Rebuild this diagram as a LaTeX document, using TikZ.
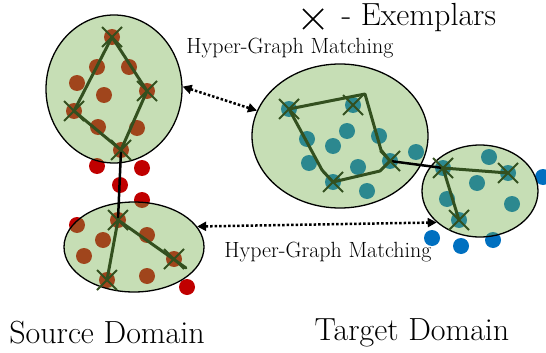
\documentclass[tikz,border=0pt]{standalone}
\usetikzlibrary{shapes.geometric,arrows.meta}

\definecolor{srcred}{HTML}{C00000}
\definecolor{tgtblue}{HTML}{0070C0}
\definecolor{blobgreen}{HTML}{70AD47}
\definecolor{edgegreen}{HTML}{33501F}

\begin{document}
\begin{tikzpicture}[
  x=1pt, y=-1pt,
  sdot/.style={fill=srcred},
  tdot/.style={fill=tgtblue},
  blob/.style={ellipse, draw=black, line width=1.3pt, fill=blobgreen, fill opacity=0.4, draw opacity=1, inner sep=0pt},
  hedge/.style={draw=edgegreen, line width=3pt, line cap=round, line join=round},
  link/.style={draw=black, line width=2.5pt},
  match/.style={{Triangle[length=9pt,width=9pt]}-{Triangle[length=9pt,width=9pt]}, line width=2.5pt, dotted},
  lbl/.style={font=\fontsize{22}{26}\selectfont},
  big/.style={font=\fontsize{32}{36}\selectfont},
  exm/.pic={\draw [edgegreen, line width=2pt] (-10,-10) -- (10,10) (-10,10) -- (10,-10);},
]
\useasboundingbox (0,0) rectangle (546,353);

% samples
\foreach \p in {(112,37),(97,67),(129,67),(77,83),(104,95),(147,91),(74,111),(98,127),(137,128),(121,150),
                (97,166),(142,168),(120,185),(142,200),
                (118,220),(103,240),(147,235),(77,225),(84,256),(147,276),(174,259),(107,280),(187,287)}
	\path [sdot] \p circle [radius=8];
\foreach \p in {(289,109),(353,105),(307,139),(347,131),(379,136),(333,146),(309,163),(358,167),(367,191),(416,152),(390,161),(333,182),
                (443,168),(508,173),(459,220),(489,157),(477,183),(447,199),(512,204),(543,177),
                (432,238),(461,246),(493,240)}
	\path [tdot] \p circle [radius=8];

% domains
\node [blob, minimum width=136pt, minimum height=148pt] (src1) at (114,89) {};
\node [blob, minimum width=140pt, minimum height=90pt] (src2) at (134,247) {};
\node [blob, minimum width=176pt, minimum height=144pt] (tgt1) at (340,136) {};
\node [blob, minimum width=116pt, minimum height=92pt] (tgt2) at (480,191) {};

% exemplars
\coordinate (s1a) at (112,37);
\coordinate (s1b) at (147,91);
\coordinate (s1c) at (121,150);
\coordinate (s1d) at (74,111);
\coordinate (s2a) at (118,220);
\coordinate (s2b) at (174,259);
\coordinate (s2c) at (107,280);
\coordinate (s2e) at (186,268);

\coordinate (t1a) at (289,109);
\coordinate (t1b) at (353,105);
\coordinate (t1c) at (390,161);
\coordinate (t1d) at (333,182);
\coordinate (t1u) at (365,94);
\coordinate (t1r) at (381,150);
\coordinate (t1l) at (322,170);
\coordinate (t1s) at (380,171);
\coordinate (t2a) at (443,168);
\coordinate (t2b) at (508,173);
\coordinate (t2c) at (459,220);

% links between sub-graphs
\draw [link] (s1c) -- (s2a);
\draw [link] (t1c) -- (t2a);

% hyper-edges
\draw [hedge] (s1a) -- (s1b) -- (s1c) -- (s1d) -- cycle;
\draw [hedge] (s2a) -- (s2c);
\draw [hedge] (s2a) -- (s2e);
\draw [hedge] (t1a) -- (t1u) -- (t1r) -- (t1c);
\draw [hedge] (t1a) -- (t1l) -- (t1d) -- (t1s) -- (t1c);
\draw [hedge] (t2a) -- (t2b);
\draw [hedge] (t2a) -- (t2c);

\foreach \e in {s1a,s1b,s1c,s1d,s2a,s2b,s2c,t1a,t1b,t1c,t1d,t2a,t2b,t2c}
	\pic at (\e) {exm};

% matching
\draw [match] (src1.2) -- (tgt1.163);
\draw [match] (src2.18) -- (tgt2.216);
\node [lbl] (m1) at (290,48) {Hyper-Graph Matching};
\node [lbl] (m2) at (328,252) {Hyper-Graph Matching};

% legend
\node [big, anchor=west] (leg) at (338,18) {- Exemplars};
\draw [line width=1.5pt] (303,9) -- (323,29) (303,29) -- (323,9);

\node [big] (sname) at (107,333) {Source Domain};
\node [big] (tname) at (412,333) {Target Domain};

\end{tikzpicture}
\end{document}
